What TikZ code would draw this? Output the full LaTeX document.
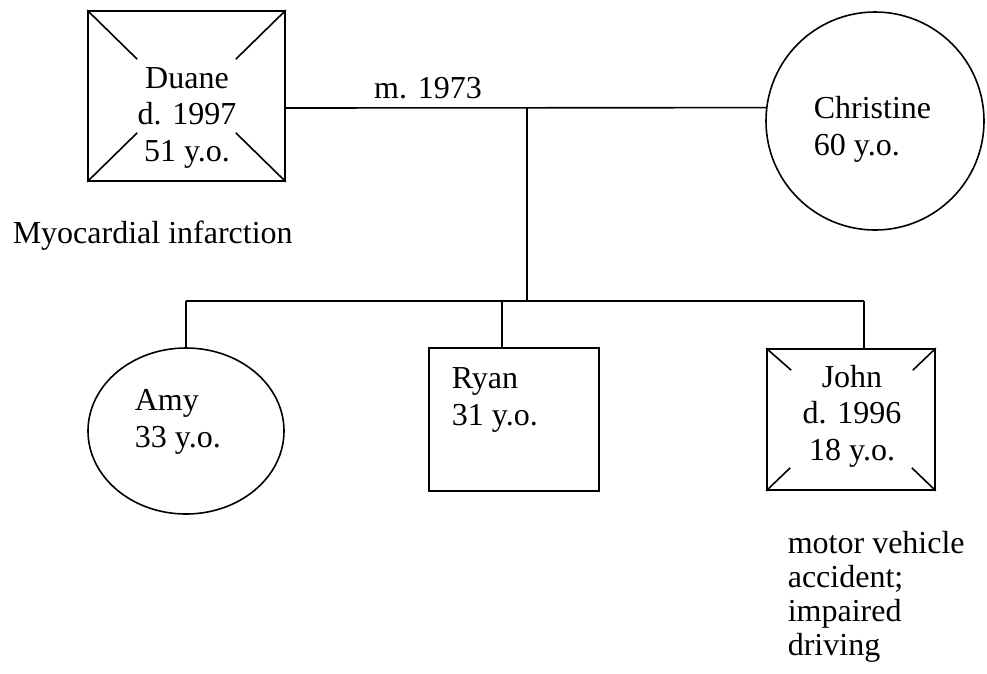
\documentclass[tikz,border=0pt]{standalone}
\usepackage{fontspec}
\setmainfont{Liberation Serif}
\usetikzlibrary{shapes.geometric,calc}
\begin{document}
\begin{tikzpicture}[x=1pt,y=-1pt,
  line width=1.6pt,
  male/.style={draw,rectangle,inner sep=0pt},
  female/.style={draw,inner sep=0pt},
  lbl/.style={inner sep=0pt,font=\fontsize{32}{36.5}\selectfont},
  note/.style={inner sep=0pt,font=\fontsize{32}{34}\selectfont,align=left}]
\useasboundingbox (0,0) rectangle (987,673);
% persons
\node[male,minimum width=197pt,minimum height=170pt] (duane) at (186.5,96) {};
\node[female,circle,minimum size=218pt] (christine) at (875,121) {};
\node[female,ellipse,minimum width=196pt,minimum height=166pt] (amy) at (186,431) {};
\node[male,minimum width=170pt,minimum height=143pt] (ryan) at (514,419.5) {};
\node[male,minimum width=168pt,minimum height=141pt] (john) at (851,419.5) {};
% deceased marks
\draw (duane.north west) -- ++(50,49);
\draw (duane.north east) -- ++(-50,49);
\draw (duane.south west) -- ++(50,-49);
\draw (duane.south east) -- ++(-50,-49);
\draw (john.north west) -- ++(25,22);
\draw (john.north east) -- ++(-23,22);
\draw (john.south west) -- ++(24,-23);
\draw (john.south east) -- ++(-24,-23);
% texts (base anchor = baseline of last line)
\node[lbl,align=center,anchor=base] (duanet) at (187,161) {Duane\\d. 1997\\51 y.o.};
\node[lbl,align=left,anchor=base west] (christinet) at (813,155) {Christine\\60 y.o.};
\node[lbl,align=left,anchor=base west] (amyt) at (134,447) {Amy\\33 y.o.};
\node[lbl,align=left,anchor=base west] (ryant) at (451,425) {Ryan\\31 y.o.};
\node[lbl,align=center,anchor=base] (johnt) at (852,460) {John\\d. 1996\\18 y.o.};
\node[lbl,anchor=base] (mar) at (428,98) {m. 1973};
\node[lbl,anchor=base west] (duanen) at (12,243) {Myocardial infarction};
\node[note,anchor=base west] (johnn) at (787,655) {motor vehicle\\accident;\\impaired\\driving};
% connectors
\coordinate (m) at (527,108);
\coordinate (s) at (527,301);
\coordinate (rd) at ($(ryan.north)+(-12,0)$);
\coordinate (jd) at ($(john.north)+(13,0)$);
\draw (m -| duane.east) -- (christine.173);
\draw (m) -- (s);
\draw (amy.north |- s) -- (jd |- s);
\draw (amy.north |- s) -- (amy.north);
\draw (rd |- s) -- (rd);
\draw (jd |- s) -- (jd);
\end{tikzpicture}
\end{document}
